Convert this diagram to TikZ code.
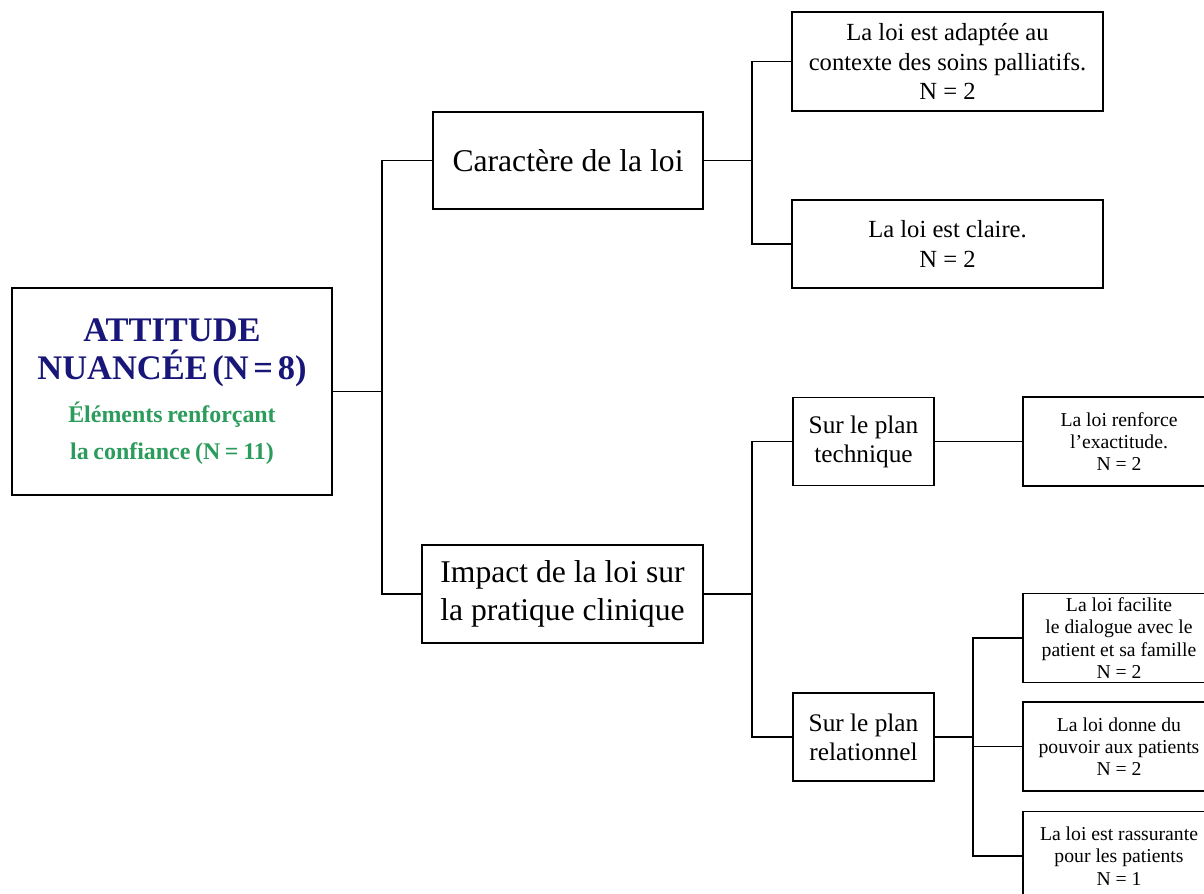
\documentclass[tikz,border=0pt]{standalone}
\usepackage{fontspec}
\setmainfont{Liberation Serif}
\usepackage{xcolor}
\usepackage{tikz}
\usetikzlibrary{calc,positioning}

\definecolor{titleblue}{RGB}{24,22,120}
\definecolor{titlegreen}{RGB}{44,156,92}

\begin{document}
\begin{tikzpicture}[x=0.025cm,y=-0.025cm]
      \tikzstyle{every node}=[draw=black,line width=1.3pt,fill=white,align=center,inner sep=0pt]
      \tikzstyle{big}=[font=\fontsize{22.5}{27}\selectfont]
      \tikzstyle{mid}=[font=\fontsize{17.5}{21}\selectfont,minimum width=7.775cm]
      \tikzstyle{plan}=[font=\fontsize{18}{20.5}\selectfont,minimum width=3.525cm,minimum height=2.2cm]
      \tikzstyle{leaf}=[font=\fontsize{14}{15.8}\selectfont,minimum width=4.8cm,minimum height=2.225cm]
      \tikzstyle{link}=[draw=black,line width=1.3pt]

      \useasboundingbox (0,0) rectangle (1204,894);

      \node[minimum width=8cm,minimum height=5.175cm,text width=7.6cm] (A) at (172,391.5)
        {\bfseries\color{titleblue}\fontsize{24.5}{27}\selectfont ATTITUDE\\NUANCÉE (N = 8)\par
         \vspace{5pt}\color{titlegreen}\fontsize{17}{26}\selectfont Éléments renforçant\\la confiance (N = 11)\par};

      \node[big,minimum width=6.75cm,minimum height=2.425cm] (C) at (568,160.5) {Caractère de la loi};
      \node[big,minimum width=7.025cm,minimum height=2.45cm] (I) at (562.5,594) {Impact de la loi sur\\la pratique clinique};

      \node[mid,minimum height=2.475cm] (CA) at (947.5,61.5) {La loi est adaptée au\\contexte des soins palliatifs.\\N = 2};
      \node[mid,minimum height=2.2cm] (CC) at (947.5,244) {La loi est claire.\\N = 2};

      \node[plan] (T) at (863.5,441.5) {Sur le plan\\technique};
      \node[plan] (R) at (863.5,737) {Sur le plan\\relationnel};

      \node[leaf] (TE) at (1119,441.5) {La loi renforce\\l’exactitude.\\N = 2};
      \node[leaf] (RD) at (1119,638) {La loi facilite\\le dialogue avec le\\patient et sa famille\\N = 2};
      \node[leaf] (RP) at (1119,746.5) {La loi donne du\\pouvoir aux patients\\N = 2};
      \node[leaf] (RR) at (1119,856) {La loi est rassurante\\pour les patients\\N = 1};

      \coordinate (jA) at (382,391.5);
      \coordinate (jC) at (752,160.5);
      \coordinate (jI) at (752,594);
      \coordinate (jR) at (973,737);

      \draw[link] (A.east) -- (jA);
      \draw[link] (C.west) -| (jA) |- (I.west);
      \draw[link] (C.east) -- (jC);
      \draw[link] (CA.west) -| (jC) |- (CC.west);
      \draw[link] (I.east) -- (jI);
      \draw[link] (T.west) -| (jI) |- (R.west);
      \draw[link] (T.east) -- (TE.west);
      \draw[link] (R.east) -- (jR);
      \draw[link] (RD.west) -| (jR) |- (RR.west);
      \draw[link] (jR |- RP.west) -- (RP.west);
    \end{tikzpicture}
\end{document}
